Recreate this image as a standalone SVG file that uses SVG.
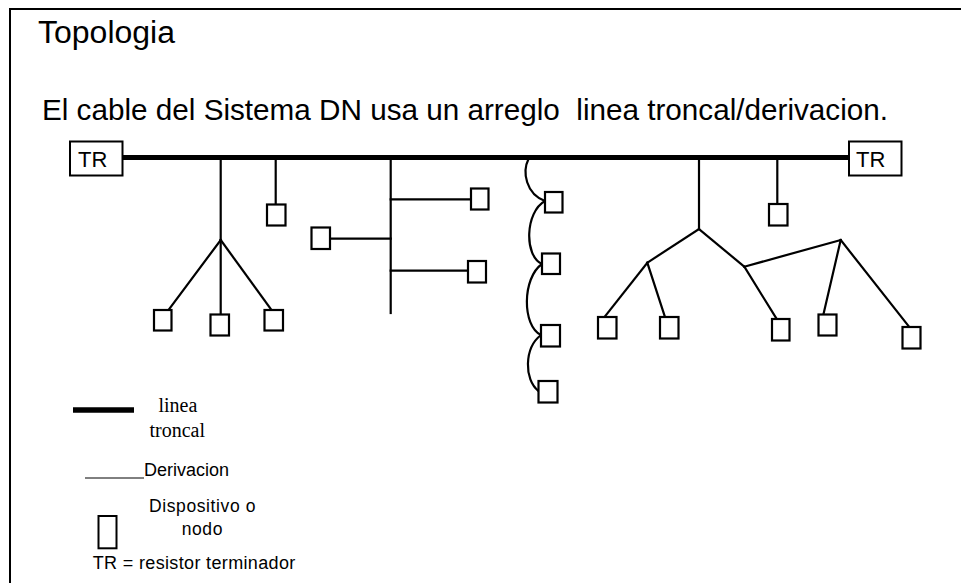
<svg xmlns="http://www.w3.org/2000/svg" width="961" height="583" viewBox="0 0 961 583">
  <style>
    .sans { font-family: "Liberation Sans", Arial, sans-serif; fill: #000; }
    .serif { font-family: "Liberation Serif", "Times New Roman", serif; fill: #000; }
    .trunk { stroke: #000; stroke-width: 5; fill: none; }
    .drop { stroke: #000; stroke-width: 2.2; fill: none; stroke-linecap: square; }
    .node { fill: #fff; stroke: #000; stroke-width: 2.2; }
    .term { fill: #fff; stroke: #000; stroke-width: 2; }
  </style>

  <rect width="961" height="583" fill="#fff"/>
  <!-- outer frame -->
  <rect x="10" y="9" width="970" height="600" fill="none" stroke="#000" stroke-width="2"/>

  <text class="sans" x="38" y="43" font-size="31" textLength="137" lengthAdjust="spacingAndGlyphs">Topologia</text>
  <text class="sans" x="42" y="120" font-size="29.5" textLength="846" lengthAdjust="spacingAndGlyphs" xml:space="preserve">El cable del Sistema DN usa un arreglo  linea troncal/derivacion.</text>

  <!-- trunk and drop lines -->
  <g id="connectors">
    <line class="trunk" x1="122" y1="157.5" x2="849" y2="157.5"/>

    <!-- drop 1: star of three devices -->
    <polyline class="drop" points="220.7,158 220.7,240"/>
    <line class="drop" x1="220.7" y1="240" x2="168.5" y2="310"/>
    <line class="drop" x1="220.7" y1="240" x2="220.7" y2="314"/>
    <line class="drop" x1="220.7" y1="240" x2="271.5" y2="310"/>

    <!-- drop 2: single device -->
    <line class="drop" x1="275.7" y1="158" x2="275.7" y2="205"/>

    <!-- drop 3: branch line with three devices -->
    <line class="drop" x1="390.7" y1="158" x2="390.7" y2="313"/>
    <line class="drop" x1="390.7" y1="199.3" x2="471" y2="199.3"/>
    <line class="drop" x1="330" y1="238.7" x2="390.7" y2="238.7"/>
    <line class="drop" x1="390.7" y1="270.7" x2="468" y2="270.7"/>

    <!-- daisy chain -->
    <path class="drop" d="M528.5,159 C522,172 526,194 545,201"/>
    <path class="drop" d="M545,201 C525,212 524,256 542,264"/>
    <path class="drop" d="M542,264 C522,278 522,326 541,335"/>
    <path class="drop" d="M541,335 C524,348 524,380 538.5,391"/>

    <!-- drop 5: tree -->
    <line class="drop" x1="699" y1="158" x2="699" y2="229"/>
    <line class="drop" x1="699" y1="229" x2="647.3" y2="262.7"/>
    <line class="drop" x1="647.3" y1="262.7" x2="604.5" y2="317"/>
    <line class="drop" x1="647.3" y1="262.7" x2="665" y2="317"/>
    <line class="drop" x1="699" y1="229" x2="744.3" y2="266.7"/>
    <line class="drop" x1="744.3" y1="266.7" x2="776.7" y2="319"/>
    <line class="drop" x1="744.3" y1="266.7" x2="840.7" y2="240"/>
    <line class="drop" x1="840.7" y1="240" x2="823.3" y2="315"/>
    <line class="drop" x1="840.7" y1="240" x2="909.3" y2="327"/>

    <!-- drop 6: single device -->
    <line class="drop" x1="777.3" y1="158" x2="777.3" y2="205"/>
  </g>

  <!-- terminators -->
  <g id="tr-left">
    <rect class="term" x="70" y="141.5" width="52.5" height="34"/>
    <text class="sans" x="78" y="166.5" font-size="22">TR</text>
  </g>
  <g id="tr-right">
    <rect class="term" x="849" y="141.5" width="52.5" height="34"/>
    <text class="sans" x="856" y="166.5" font-size="22">TR</text>
  </g>

  <!-- devices -->
  <g id="dev-1"><rect class="node" x="154" y="310" width="17.5" height="20.5"/></g>
  <g id="dev-2"><rect class="node" x="210.5" y="314.5" width="18.5" height="21"/></g>
  <g id="dev-3"><rect class="node" x="264.5" y="310" width="18.5" height="20.5"/></g>
  <g id="dev-4"><rect class="node" x="267" y="204.5" width="18.5" height="21"/></g>
  <g id="dev-5"><rect class="node" x="471" y="188.5" width="17.5" height="21"/></g>
  <g id="dev-6"><rect class="node" x="311.5" y="227.5" width="18.5" height="21.5"/></g>
  <g id="dev-7"><rect class="node" x="468" y="261" width="18" height="21.5"/></g>
  <g id="dev-8"><rect class="node" x="545" y="192" width="17.5" height="20.5"/></g>
  <g id="dev-9"><rect class="node" x="542" y="253.5" width="18" height="20.5"/></g>
  <g id="dev-10"><rect class="node" x="541" y="325" width="19" height="21.5"/></g>
  <g id="dev-11"><rect class="node" x="538.5" y="381" width="19" height="21.5"/></g>
  <g id="dev-12"><rect class="node" x="598" y="317" width="18.5" height="21.5"/></g>
  <g id="dev-13"><rect class="node" x="660" y="317" width="18.5" height="21.5"/></g>
  <g id="dev-14"><rect class="node" x="772" y="319" width="17.5" height="21.5"/></g>
  <g id="dev-15"><rect class="node" x="818.5" y="314.5" width="18" height="21"/></g>
  <g id="dev-16"><rect class="node" x="902.5" y="327" width="18" height="21.5"/></g>
  <g id="dev-17"><rect class="node" x="769" y="204" width="18.5" height="21.5"/></g>

  <!-- legend -->
  <g id="legend">
    <line x1="73" y1="410" x2="134" y2="410" stroke="#000" stroke-width="5.5"/>
    <text class="serif" x="158.5" y="412.3" font-size="20">linea</text>
    <text class="serif" x="149.5" y="437.3" font-size="20">troncal</text>

    <line x1="85" y1="478" x2="144" y2="478" stroke="#000" stroke-width="1"/>
    <text class="sans" x="144" y="475.7" font-size="18">Derivacion</text>

    <text class="sans" x="149" y="511.7" font-size="17.5" letter-spacing="0.6">Dispositivo o</text>
    <text class="sans" x="181.7" y="535" font-size="17.5" letter-spacing="0.6">nodo</text>
    <rect x="98.5" y="516" width="18" height="32.3" fill="#fff" stroke="#000" stroke-width="2"/>

    <text class="sans" x="92.7" y="569.3" font-size="18" letter-spacing="0.35">TR = resistor terminador</text>
  </g>
</svg>
